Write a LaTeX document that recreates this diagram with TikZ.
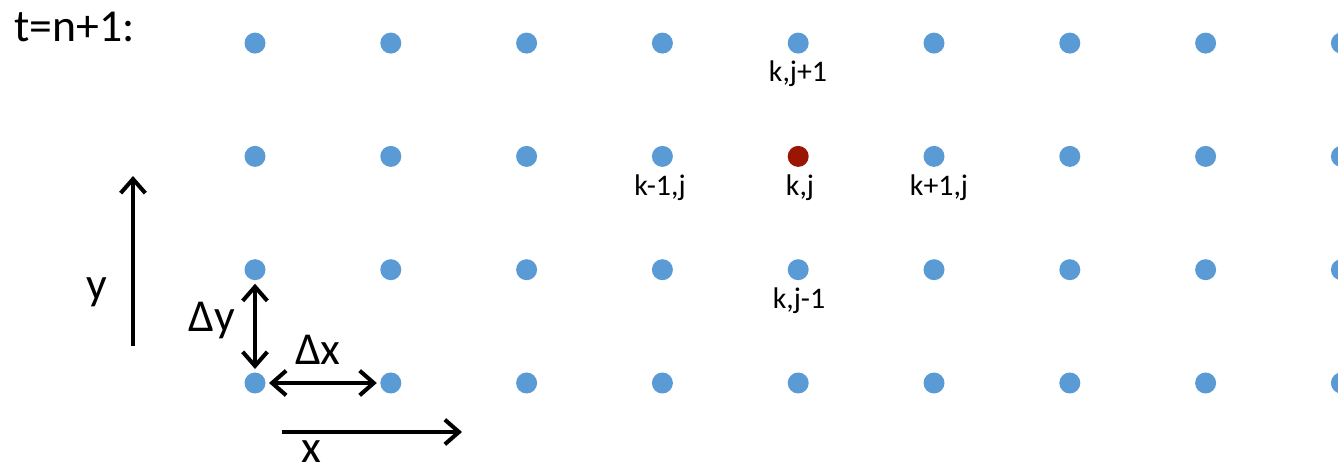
\documentclass[tikz,border=0pt]{standalone}
\usepackage{fontspec}
\setmainfont{Carlito}
\usepackage{tikz}
\usetikzlibrary{arrows.meta}

\definecolor{gridblue}{RGB}{91,155,213}
\definecolor{centerred}{RGB}{155,22,2}

\begin{document}
\begin{tikzpicture}[x=0.02cm,y=-0.02cm,
  grid/.style={circle, fill=gridblue, minimum size=21*0.02cm, inner sep=0pt, outer sep=2pt},
  center/.style={grid, fill=centerred},
  lab/.style={font=\fontsize{17}{19}\selectfont, inner sep=0pt},
  big/.style={font=\fontsize{26}{28}\selectfont, inner sep=0pt},
  axis/.style={line width=2.3pt, -{Straight Barb[length=8pt,width=14pt,line width=2.3pt]}},
  span/.style={axis, {Straight Barb[length=8pt,width=14pt,line width=2.3pt]}-{Straight Barb[length=8pt,width=14pt,line width=2.3pt]}}]
  \useasboundingbox (0,0) rectangle (1338,472);
  % grid points, p<column><row>, row 0 at the bottom
  \foreach \i in {0,...,8} \foreach \j in {0,...,3} {
    \ifnum\i\j=42 \def\sty{center}\else\def\sty{grid}\fi
    \node[\sty] at ({255+135.8*\i},{383-113.3*\j}) (p\i\j) {};
  }
  \node[big, anchor=west] at (14,27) (time) {t=n+1:};
  % neighbour labels
  \node[lab] at (798,74) (l1) {k,j+1};
  \node[lab] at (660,188) (l2) {k-1,j};
  \node[lab] at (800,188) (l3) {k,j};
  \node[lab] at (939,188) (l4) {k+1,j};
  \node[lab] at (799,301) (l5) {k,j-1};
  % axes
  \coordinate (ya) at (133,346);
  \coordinate (yb) at (133,176);
  \coordinate (xa) at (282,432);
  \coordinate (xb) at (462,432);
  \draw[axis] (ya) -- (yb);
  \draw[axis] (xa) -- (xb);
  \node[big] at (97,292) (ylab) {y};
  \node[big] at (311,452) (xlab) {x};
  % spacings
  \draw[span] (p01) -- (p00);
  \draw[span] (p00) -- (p10);
  \node[big] at (212,321) (dy) {Δy};
  \node[big] at (318,350) (dx) {Δx};
\end{tikzpicture}
\end{document}
